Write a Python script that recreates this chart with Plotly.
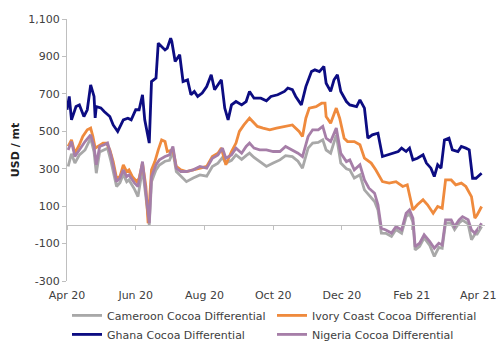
import datetime as dt
import plotly.graph_objects as go

BASE = dt.date(2020, 4, 1)

ghana_days = [0, 2, 4, 8, 11, 15, 18, 21, 24, 25, 26, 30, 33, 38, 41, 45, 50, 54, 57, 59, 61, 64, 67, 69, 72, 73, 75, 79, 81, 85, 87, 89, 92, 93, 96, 100, 103, 107, 110, 113, 116, 120, 124, 128, 131, 137, 140, 143, 146, 150, 155, 159, 162, 166, 172, 177, 181, 187, 193, 196, 200, 203, 208, 212, 217, 220, 224, 228, 230, 234, 237, 240, 243, 248, 251, 257, 260, 264, 267, 271, 276, 280, 285, 289, 294, 297, 301, 304, 307, 311, 316, 319, 323, 326, 329, 332, 335, 339, 342, 347, 350, 354, 357, 360, 363, 368]
ghana = [615, 686, 561, 632, 641, 579, 615, 748, 686, 572, 632, 625, 606, 579, 534, 499, 561, 570, 561, 588, 615, 615, 695, 561, 481, 437, 766, 784, 971, 944, 935, 944, 998, 980, 873, 909, 766, 775, 695, 713, 686, 704, 739, 802, 722, 775, 624, 561, 641, 659, 641, 659, 713, 677, 677, 663, 686, 695, 713, 731, 722, 686, 641, 739, 819, 828, 819, 846, 757, 713, 775, 802, 713, 659, 641, 632, 668, 624, 463, 481, 490, 365, 374, 383, 392, 410, 392, 410, 347, 356, 374, 330, 303, 258, 321, 303, 454, 463, 401, 392, 419, 410, 401, 249, 249, 276]

ivory_days = [1, 4, 7, 11, 14, 18, 21, 23, 25, 29, 32, 35, 38, 41, 44, 47, 50, 53, 55, 58, 62, 64, 67, 70, 72, 75, 78, 81, 84, 87, 89, 94, 97, 101, 106, 112, 118, 124, 129, 134, 137, 141, 146, 150, 153, 157, 162, 165, 169, 174, 180, 186, 194, 200, 206, 209, 212, 215, 221, 226, 229, 230, 234, 239, 242, 246, 249, 255, 260, 264, 270, 274, 280, 286, 292, 298, 302, 307, 311, 316, 320, 325, 329, 333, 336, 341, 345, 350, 354, 359, 362, 364, 368]
ivory = [419, 454, 383, 428, 472, 508, 517, 472, 410, 428, 437, 437, 401, 338, 249, 258, 321, 285, 294, 258, 231, 249, 330, 205, 9, 294, 338, 401, 454, 445, 392, 401, 312, 294, 285, 294, 303, 312, 365, 383, 410, 321, 392, 437, 499, 534, 570, 552, 526, 517, 508, 517, 526, 534, 499, 472, 570, 624, 632, 650, 650, 579, 543, 624, 570, 463, 445, 445, 428, 356, 330, 294, 231, 223, 231, 205, 214, 80, 107, 134, 107, 62, 98, 89, 240, 240, 214, 223, 205, 151, 36, 53, 98]

nigeria_days = [1, 4, 7, 11, 16, 21, 24, 26, 29, 33, 36, 39, 44, 47, 50, 53, 55, 60, 63, 67, 70, 73, 75, 79, 82, 87, 91, 94, 97, 101, 106, 112, 118, 124, 129, 134, 138, 141, 146, 150, 155, 159, 162, 166, 171, 177, 183, 189, 194, 200, 205, 209, 214, 218, 223, 227, 230, 234, 239, 243, 248, 251, 255, 260, 264, 268, 273, 276, 279, 283, 288, 292, 297, 301, 304, 307, 309, 313, 317, 322, 326, 330, 333, 336, 341, 344, 348, 351, 356, 359, 362, 364, 368]
nigeria = [400, 445, 365, 401, 445, 481, 419, 321, 419, 428, 437, 374, 231, 249, 294, 258, 267, 223, 205, 338, 169, 9, 258, 321, 347, 365, 374, 419, 303, 285, 285, 294, 312, 303, 356, 374, 410, 356, 374, 410, 383, 419, 437, 410, 401, 401, 392, 392, 419, 401, 383, 365, 472, 508, 508, 526, 463, 445, 517, 383, 338, 347, 294, 321, 240, 196, 169, 107, -18, -27, -44, -9, -27, 62, 80, 36, -116, -98, -53, -89, -125, -98, -107, 27, 27, -9, 27, 44, 27, -27, -44, -27, 9]

cameroon_days = nigeria_days
cameroon = [312, 380, 330, 374, 400, 463, 390, 276, 390, 400, 410, 340, 205, 225, 270, 230, 240, 190, 151, 300, 140, 0, 230, 294, 320, 340, 345, 390, 285, 260, 231, 250, 267, 260, 312, 330, 360, 330, 345, 374, 350, 370, 383, 360, 338, 312, 330, 347, 370, 365, 340, 303, 410, 437, 440, 454, 400, 383, 481, 330, 300, 294, 250, 267, 187, 160, 125, 80, -44, -45, -62, -25, -45, 44, 60, 15, -134, -115, -70, -110, -169, -120, -125, 9, 10, -25, 10, 25, 5, -80, -50, -50, -9]

tick_vals = [-300, -100, 100, 300, 500, 700, 900, 1100]
tick_text = ["-300", "-100", "100", "300", "500", "700", "900", "1,100"]


def to_dates(days):
    return [BASE + dt.timedelta(days=d) for d in days]


FONT = "DejaVu Sans"
AXIS_GREY = "#bfbfbf"

fig = go.Figure()
series = [
    ("Cameroon Cocoa Differential", cameroon_days, cameroon, "#a8a8a8", 1),
    ("Ivory Coast Cocoa Differential", ivory_days, ivory, "#ef8a3d", 2),
    ("Nigeria Cocoa Differential", nigeria_days, nigeria, "#a67ea8", 4),
    ("Ghana Cocoa Differential", ghana_days, ghana, "#0c0c82", 3),
]
for name, days, vals, color, rank in series:
    fig.add_trace(go.Scatter(
        x=to_dates(days), y=vals, name=name, mode="lines",
        line=dict(color=color, width=2.8), legendrank=rank,
    ))

# invisible trace so the zero-crossing axis is drawn
fig.add_trace(go.Scatter(x=[BASE], y=[0], xaxis="x2", mode="markers",
                         marker=dict(opacity=0), showlegend=False, hoverinfo="skip"))

ymin, ymax = -300, 1100
fig.update_layout(
    width=500, height=343,
    margin=dict(l=67, r=15, t=19, b=62, autoexpand=False),
    paper_bgcolor="white", plot_bgcolor="white",
    font=dict(family=FONT, size=11, color="#404040"),
    showlegend=True,
    legend=dict(orientation="h", x=0.0, xanchor="left", y=-0.076, yanchor="top",
                entrywidth=160, entrywidthmode="pixels",
                font=dict(size=11, color="#404040"), tracegroupgap=0,
                bgcolor="rgba(0,0,0,0)"),
    xaxis=dict(
        type="date", range=[BASE, BASE + dt.timedelta(days=371)],
        dtick="M2", tick0="2020-04-01", tickformat="%b %y",
        showgrid=False, showline=False, ticks="", zeroline=False,
        ticklabelstandoff=6,
        tickfont=dict(size=11, color="#404040"),
    ),
    xaxis2=dict(
        type="date", overlaying="x", matches="x", anchor="free",
        position=(0 - ymin) / (ymax - ymin),
        dtick="M2", tick0="2020-04-01",
        showgrid=False, showline=True, linecolor=AXIS_GREY, linewidth=1,
        ticks="outside", ticklen=4, tickcolor=AXIS_GREY,
        showticklabels=False, zeroline=False,
    ),
    yaxis=dict(
        range=[ymin, ymax], tickvals=tick_vals, ticktext=tick_text,
        showgrid=False, zeroline=False, showline=True,
        linecolor=AXIS_GREY, linewidth=1, ticks="outside", ticklen=4,
        tickcolor=AXIS_GREY, tickfont=dict(size=11, color="#404040"),
        title=dict(text="<b>USD / mt</b>", standoff=6, font=dict(size=11, color="#202020")),
    ),
)

fig.write_html("out.html")
